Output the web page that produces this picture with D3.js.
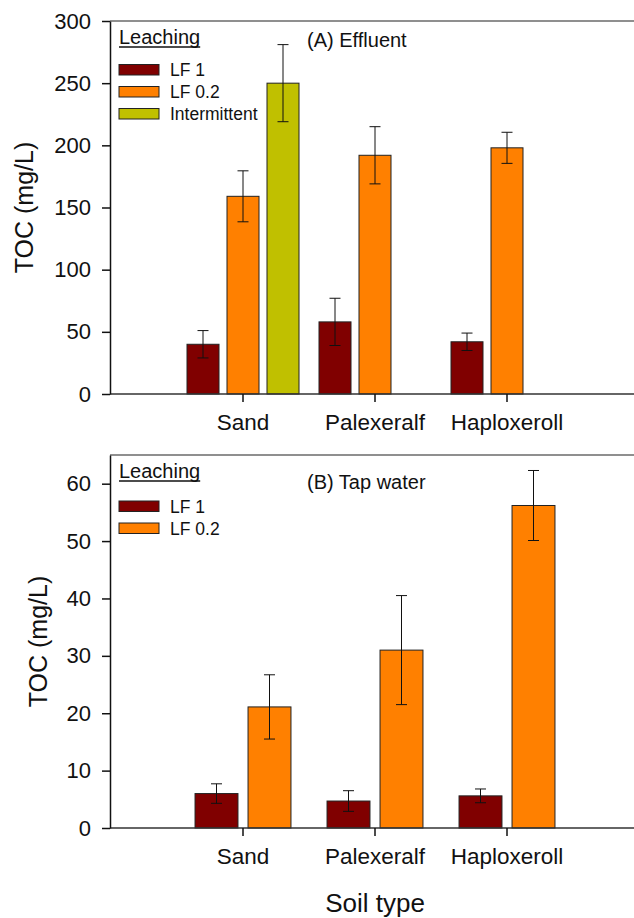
<!DOCTYPE html>
<html><head><meta charset="utf-8">
<script src="https://cdn.jsdelivr.net/npm/d3@7"></script>
<style>html,body{margin:0;padding:0;background:#fff;}svg{display:block;}</style>
</head><body>
<script>
// ---- data ----
const categories = ["Sand", "Palexeralf", "Haploxeroll"];
const seriesNames = ["LF 1", "LF 0.2", "Intermittent"];
const seriesColors = ["#800000", "#FF8000", "#C0C000"];

const effluentLF1 = [40, 58, 42];
const effluentLF1Err = [11, 19, 7];
const effluentLF02 = [159, 192, 198];
const effluentLF02Err = [20.5, 23, 12.5];
const effluentInt = [250, null, null];
const effluentIntErr = [31, null, null];

const tapLF1 = [6, 4.7, 5.6];
const tapLF1Err = [1.7, 1.8, 1.2];
const tapLF02 = [21.1, 31, 56.2];
const tapLF02Err = [5.6, 9.5, 6.1];

const effluentTicks = [0, 50, 100, 150, 200, 250, 300];
const tapTicks = [0, 10, 20, 30, 40, 50, 60];

const FONT = "'Liberation Sans', Arial, Helvetica, sans-serif";
const W = 634, H = 918;
const svg = d3.select("body").append("svg").attr("width", W).attr("height", H)
  .style("font-family", FONT);

const x = d3.scaleBand().domain(categories).range([177, 573]).padding(0);
const X0 = 110, X1 = 639;

function panel(opts) {
  const g = svg.append("g");
  const y = d3.scaleLinear().domain(opts.domain).range([opts.bottom, opts.top]);
  const sub = d3.scaleBand().domain(opts.series.map(s => s.name))
    .range(opts.subRange).paddingInner(opts.pi).paddingOuter(opts.po);

  // top frame line
  g.append("line").attr("x1", X0).attr("x2", X1).attr("y1", opts.top).attr("y2", opts.top)
    .attr("stroke", "#6a6a6a").attr("stroke-width", 1.5);

  // bars
  opts.series.forEach((s, si) => {
    const data = categories.map((c, i) => ({c, v: s.values[i], e: s.errs[i]})).filter(d => d.v != null);
    g.selectAll(null).data(data).enter().append("rect")
      .attr("x", d => x(d.c) + x.bandwidth() / 2 + sub(s.name))
      .attr("width", sub.bandwidth())
      .attr("y", d => y(d.v))
      .attr("height", d => y(0) - y(d.v))
      .attr("fill", s.color).attr("stroke", "#222").attr("stroke-width", 1);
    const cx = d => x(d.c) + x.bandwidth() / 2 + sub(s.name) + sub.bandwidth() / 2;
    g.selectAll(null).data(data).enter().append("line")
      .attr("x1", cx).attr("x2", cx)
      .attr("y1", d => y(d.v + d.e)).attr("y2", d => y(d.v - d.e))
      .attr("stroke", "#111").attr("stroke-width", 1);
    [1, -1].forEach(sg => {
      g.selectAll(null).data(data).enter().append("line")
        .attr("x1", d => cx(d) - 5.5).attr("x2", d => cx(d) + 5.5)
        .attr("y1", d => y(d.v + sg * d.e)).attr("y2", d => y(d.v + sg * d.e))
        .attr("stroke", "#111").attr("stroke-width", 1);
    });
  });

  // x axis line
  g.append("line").attr("x1", X0).attr("x2", X1).attr("y1", opts.bottom).attr("y2", opts.bottom)
    .attr("stroke", "#333").attr("stroke-width", 1.5);
  // x ticks + labels
  const xa = d3.axisBottom(x).tickSize(8).tickSizeOuter(0).tickPadding(12);
  const xg = g.append("g").attr("transform", `translate(0,${opts.bottom})`).call(xa);
  xg.select(".domain").remove();
  xg.selectAll(".tick line").attr("stroke", "#111").attr("stroke-width", 1.5);
  xg.selectAll(".tick text").attr("font-size", 22.5).attr("font-family", FONT).attr("fill", "#111");

  // y axis
  const ya = d3.axisLeft(y).tickValues(opts.ticks).tickSize(8).tickSizeOuter(0).tickPadding(11);
  const yg = g.append("g").attr("transform", `translate(${X0},0)`).call(ya);
  yg.select(".domain").attr("stroke", "#111").attr("stroke-width", 1.5);
  yg.selectAll(".tick line").attr("stroke", "#111").attr("stroke-width", 1.5);
  yg.selectAll(".tick text").attr("font-size", 22).attr("font-family", FONT).attr("fill", "#111");

  // y title
  g.append("text")
    .attr("transform", `translate(${opts.titleX},${(opts.top + opts.bottom) / 2}) rotate(-90)`)
    .attr("text-anchor", "middle").attr("font-size", 25).attr("fill", "#111")
    .text("TOC (mg/L)");

  // panel label
  g.append("text").attr("x", 307).attr("y", opts.labelY).attr("font-size", 20).attr("fill", "#111")
    .text(opts.label);

  // legend
  const lt = g.append("text").attr("x", 119).attr("y", opts.top + 22.5)
    .attr("font-size", 20).attr("fill", "#111").text("Leaching");
  const lw = lt.node().getComputedTextLength();
  g.append("line").attr("x1", 119).attr("x2", 119 + lw)
    .attr("y1", opts.top + 26).attr("y2", opts.top + 26)
    .attr("stroke", "#111").attr("stroke-width", 1.5);
  opts.series.forEach((s, i) => {
    const yy = opts.top + opts.legTop + i * 22;
    g.append("rect").attr("x", 119).attr("y", yy).attr("width", 40).attr("height", 10.5)
      .attr("fill", s.color).attr("stroke", "#222").attr("stroke-width", 1);
    g.append("text").attr("x", 170).attr("y", yy + 11.5).attr("font-size", 17.5).attr("fill", "#111")
      .text(s.name);
  });
}

panel({
  top: 21, bottom: 394, domain: [0, 300], ticks: effluentTicks,
  subRange: [-60, 60], pi: 0.2, po: 0.1,
  series: [
    {name: seriesNames[0], color: seriesColors[0], values: effluentLF1, errs: effluentLF1Err},
    {name: seriesNames[1], color: seriesColors[1], values: effluentLF02, errs: effluentLF02Err},
    {name: seriesNames[2], color: seriesColors[2], values: effluentInt, errs: effluentIntErr}
  ],
  titleX: 33, label: "(A) Effluent", labelY: 47, legTop: 43.5
});

panel({
  top: 455, bottom: 828, domain: [0, 65], ticks: tapTicks,
  subRange: [-53, 53], pi: 0.19, po: 0.095,
  series: [
    {name: seriesNames[0], color: seriesColors[0], values: tapLF1, errs: tapLF1Err},
    {name: seriesNames[1], color: seriesColors[1], values: tapLF02, errs: tapLF02Err}
  ],
  titleX: 47, label: "(B) Tap water", labelY: 488.5, legTop: 46
});

svg.append("text").attr("x", 375).attr("y", 912).attr("text-anchor", "middle")
  .attr("font-size", 26).attr("fill", "#111").text("Soil type");
</script>
</body></html>
